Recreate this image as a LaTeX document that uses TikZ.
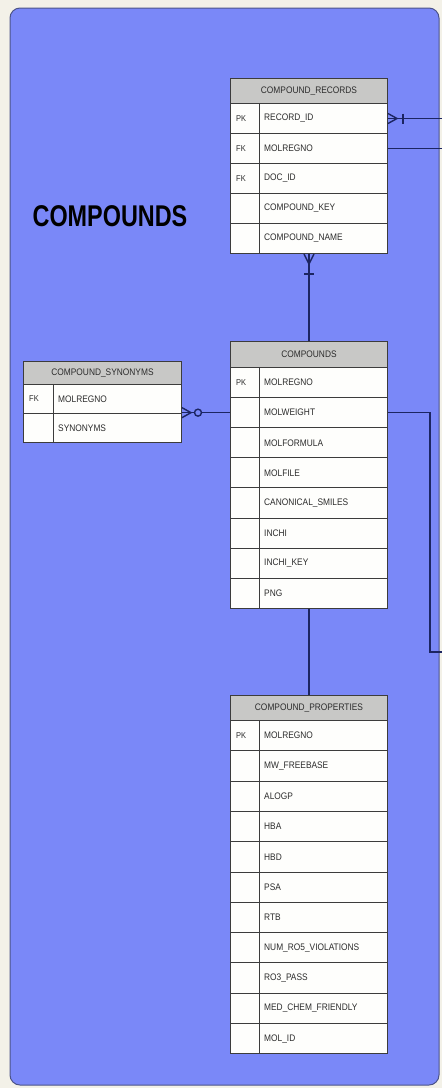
\documentclass[tikz,border=0pt]{standalone}
\usepackage{fontspec}
\setmainfont{Liberation Sans}
\usetikzlibrary{calc}

\definecolor{paper}{HTML}{F3F1E8}
\definecolor{panel}{HTML}{7A88F8}
\definecolor{panelrim}{HTML}{4C5488}
\definecolor{hdrgray}{HTML}{C8C8C6}
\definecolor{cellwhite}{HTML}{FEFEFC}
\definecolor{gridline}{HTML}{3C3C3C}
\definecolor{ink}{HTML}{2C2C2C}
\definecolor{linkblue}{HTML}{1C2562}

% slightly condensed lettering for the table cells
\newcommand\narrow[1]{\scalebox{0.88}[1]{#1}}

\tikzset{
  hdr/.style={draw=gridline, fill=hdrgray, line width=1pt, inner sep=0pt,
              font=\fontsize{9.5}{11}\selectfont, text=ink},
  rowbox/.style={draw=gridline, fill=cellwhite, line width=1pt, inner sep=0pt},
  keytext/.style={font=\fontsize{8.5}{10}\selectfont, text=ink, inner sep=0pt},
  fieldtext/.style={font=\fontsize{9.5}{11}\selectfont, text=ink, inner sep=0pt},
  link/.style={draw=linkblue, line width=1.4pt},
  colrule/.style={draw=gridline, line width=1pt},
}

% #1 id, #2 x, #3 y, #4 width, #5 key column width, #6 header height,
% #7 row height, #8 title, #9 key/field list
\newcommand\erdtable[9]{%
  \node[hdr, anchor=north west, minimum width=#4pt, minimum height=#6pt]
    (#1-h) at (#2,#3) {\narrow{#8}};
  \foreach [count=\i] \k/\f in {#9} {
    \node[rowbox, anchor=north west, minimum width=#4pt, minimum height=#7pt]
      (#1-\i) at (#2,{#3+#6+(\i-1)*#7}) {};
    \draw[colrule] ([xshift=#5pt]#1-\i.north west) -- ([xshift=#5pt]#1-\i.south west);
    \node[keytext, anchor=west] (#1-\i-k) at ([xshift=6pt]#1-\i.west) {\narrow{\k}};
    \node[fieldtext, anchor=west] (#1-\i-f) at ([xshift=#5pt+5pt]#1-\i.west) {\narrow{\f}};
  }
}

\begin{document}
\begin{tikzpicture}[x=1pt, y=-1pt]
  \useasboundingbox (0,0) rectangle (442,1088);
  \fill[paper] (0,0) rectangle (442,1088);

  % subject area panel
  \draw[fill=panel, draw=panelrim, line width=1pt, rounded corners=10pt]
    (10,8) rectangle (439,1085);

  \node[font=\fontsize{30}{32}\selectfont\bfseries, text=black, inner sep=0pt]
    (title) at (110,216) {\scalebox{0.78}[1]{COMPOUNDS}};

  % tables
  \erdtable{rec}{230}{78}{157}{29}{25}{30}{COMPOUND\_RECORDS}%
    {PK/RECORD\_ID, FK/MOLREGNO, FK/DOC\_ID, /COMPOUND\_KEY, /COMPOUND\_NAME}
  \erdtable{syn}{23}{361}{158}{30}{23}{29}{COMPOUND\_SYNONYMS}%
    {FK/MOLREGNO, /SYNONYMS}
  \erdtable{cmp}{230}{341}{157}{29}{26}{30.1}{COMPOUNDS}%
    {PK/MOLREGNO, /MOLWEIGHT, /MOLFORMULA, /MOLFILE, /CANONICAL\_SMILES,
     /INCHI, /INCHI\_KEY, /PNG}
  \erdtable{prp}{230}{695}{157}{29}{25}{30.3}{COMPOUND\_PROPERTIES}%
    {PK/MOLREGNO, /MW\_FREEBASE, /ALOGP, /HBA, /HBD, /PSA, /RTB,
     /NUM\_RO5\_VIOLATIONS, /RO3\_PASS, /MED\_CHEM\_FRIENDLY, /MOL\_ID}

  % free ends leaving the panel to the right
  \coordinate (east) at (442,0);
  \coordinate (drop) at (430,652);

  % compound_records -> compounds (one or many at records)
  \draw[link] (rec-5.south) -- (cmp-h.north);
  \draw[link] ([xshift=-5pt]rec-5.south) -- ([yshift=-10pt]rec-5.south)
              -- ([xshift=5pt]rec-5.south);
  \draw[link] ([xshift=-5pt,yshift=-20pt]rec-5.south)
              -- ([xshift=5pt,yshift=-20pt]rec-5.south);

  % compound_records -> outside (one or many at records)
  \draw[link] (rec-1.east) -- (rec-1.east -| east);
  \draw[link] ([yshift=5pt]rec-1.east) -- ([xshift=9pt]rec-1.east)
              -- ([yshift=-5pt]rec-1.east);
  \draw[link] ([xshift=15pt,yshift=5pt]rec-1.east)
              -- ([xshift=15pt,yshift=-5pt]rec-1.east);
  \draw[link] (rec-2.east) -- (rec-2.east -| east);

  % compound_synonyms -> compounds (zero or many at synonyms)
  \coordinate (synport) at (syn-1.east |- cmp-2.west);
  \draw[link] (synport) -- (cmp-2.west);
  \draw[link] ([yshift=5pt]synport) -- ([xshift=9pt]synport)
              -- ([yshift=-5pt]synport);
  \draw[link, fill=panel] ([xshift=16pt]synport) circle[radius=3.5pt];

  % compounds -> compound_properties
  \draw[link] (cmp-8.south) -- (prp-h.north);

  % compounds.molweight -> outside
  \draw[link] (cmp-2.east) -| (drop) -- (drop -| east);
\end{tikzpicture}
\end{document}
